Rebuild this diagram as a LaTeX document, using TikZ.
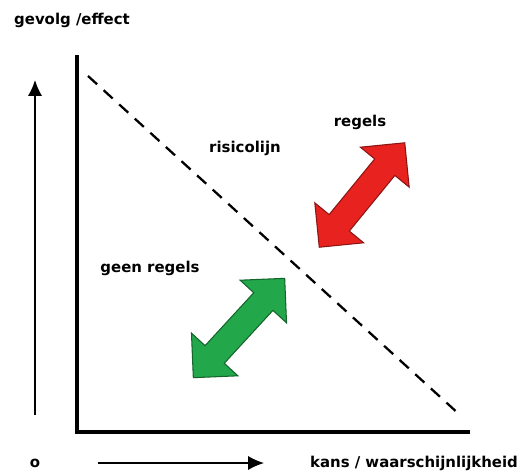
\documentclass[tikz,border=0pt]{standalone}
\usepackage{fontspec}
\setmainfont{DejaVu Sans}
\usetikzlibrary{shapes.arrows,arrows.meta}
\definecolor{rood}{HTML}{E8231F}
\definecolor{groen}{HTML}{22A84A}
\begin{document}
\begin{tikzpicture}[
  x=0.02cm, y=-0.02cm,
  lbl/.style={font=\fontsize{8.5}{10}\selectfont\bfseries, inner sep=0pt},
  axis/.style={line width=2.2pt, line cap=rect, line join=miter},
  dblarrow/.style={double arrow, draw=#1!60!black, fill=#1, line width=0.6pt,
    inner sep=0.25cm, minimum height=2.7cm, double arrow head extend=0.37cm,
    double arrow tip angle=90}
]
  \useasboundingbox (0,0) rectangle (519,473);
  % assen
  \coordinate (top) at (77,57);
  \coordinate (corner) at (77,432);
  \coordinate (end) at (468,432);
  \draw[axis] (top) -- (corner) -- (end);
  % risicolijn
  \coordinate (d1) at (88,76);
  \coordinate (d2) at (460,415);
  \draw[line width=1.3pt, dash pattern=on 7pt off 5pt] (d1) -- (d2);
  % pijlen langs de assen
  \coordinate (a1) at (35,415);
  \coordinate (a2) at (35,80);
  \draw[line width=0.8pt, -{Latex[length=9pt,width=8pt]}] (a1) -- (a2);
  \coordinate (b1) at (98,463);
  \coordinate (b2) at (264,463);
  \draw[line width=0.8pt, -{Latex[length=9pt,width=8pt]}] (b1) -- (b2);
  % teksten
  \node[lbl] (title) at (72,20) {gevolg /effect};
  \node[lbl] (risico) at (245,148) {risicolijn};
  \node[lbl] (regels) at (360,122) {regels};
  \node[lbl] (geen) at (150,268) {geen regels};
  \node[lbl] (origin) at (35,463) {o};
  \node[lbl] (kans) at (414,463) {kans / waarschijnlijkheid};
  % dubbele pijlen
  \node[dblarrow=rood, rotate=50.7] (pijlrood) at (362,195) {};
  \node[dblarrow=groen, rotate=47.4] (pijlgroen) at (239,328) {};
\end{tikzpicture}
\end{document}
